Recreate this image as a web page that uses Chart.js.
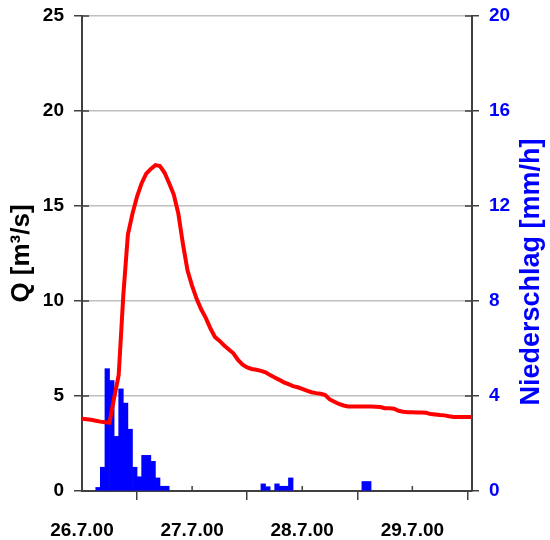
<!DOCTYPE html>
<html>
<head>
<meta charset="utf-8">
<script src="https://cdn.jsdelivr.net/npm/chart.js@4"></script>
<style>
  html, body { margin: 0; padding: 0; background: #fff; }
  canvas { display: block; }
</style>
</head>
<body>
<canvas id="hydro-chart" width="550" height="540"></canvas>
<script>
// hours since 26.7.00 00:00
const dayLabels = ['26.7.00', '27.7.00', '28.7.00', '29.7.00'];
const dayTicks = [0, 24, 48, 72];
const qTicks = [0, 5, 10, 15, 20, 25];
const rainTicks = [0, 4, 8, 12, 16, 20];

// discharge Q [m³/s], hourly from hour 0
const discharge = [
  3.8, 3.78, 3.75, 3.7, 3.65, 3.62, 3.6, 4.9, 6.1, 10.3,
  13.5, 14.6, 15.5, 16.2, 16.7, 16.95, 17.15, 17.1, 16.75, 16.2,
  15.6, 14.6, 13.0, 11.6, 10.8, 10.1, 9.55, 9.1, 8.55, 8.1,
  7.9, 7.65, 7.45, 7.25, 6.9, 6.65, 6.5, 6.42, 6.38, 6.32,
  6.25, 6.1, 5.97, 5.85, 5.72, 5.62, 5.52, 5.46, 5.38, 5.28,
  5.2, 5.15, 5.12, 5.05, 4.82, 4.7, 4.58, 4.5, 4.45, 4.45,
  4.45, 4.45, 4.45, 4.45, 4.44, 4.42, 4.36, 4.35, 4.33, 4.22,
  4.17, 4.15, 4.15, 4.13, 4.13, 4.12, 4.05, 4.03, 4.0, 3.98,
  3.93, 3.9, 3.9, 3.9, 3.9, 3.9,
];

// precipitation [mm/h]
const rainHours = [3, 4, 5, 6, 7, 8, 9, 10, 11, 12, 13, 14, 15, 16, 17, 18, 39, 40, 42, 43, 44, 45, 61, 62];
const rainValues = [0.15, 1.0, 5.15, 4.65, 2.3, 4.3, 3.7, 2.6, 1.0, 0.6, 1.5, 1.5, 1.25, 0.55, 0.2, 0.2, 0.3, 0.18, 0.3, 0.2, 0.2, 0.55, 0.4, 0.4];

const FONT = 'Liberation Sans, Arial, sans-serif';
const BLUE = '#0000ff';
const AXIS = '#404040';

const innerTicks = {
  id: 'innerTicks',
  afterDraw(chart) {
    const { ctx, chartArea: a, scales } = chart;
    ctx.save();
    ctx.strokeStyle = AXIS;
    ctx.lineWidth = 1.5;
    ctx.beginPath();
    qTicks.forEach((v) => {
      const y = scales.y.getPixelForValue(v);
      ctx.moveTo(a.left, y);
      ctx.lineTo(a.left + 7, y);
    });
    rainTicks.forEach((v) => {
      const y = scales.y2.getPixelForValue(v);
      ctx.moveTo(a.right - 7, y);
      ctx.lineTo(a.right, y);
    });
    dayTicks.forEach((v) => {
      const x = scales.x.getPixelForValue(v);
      ctx.moveTo(x, a.bottom - 5);
      ctx.lineTo(x, a.bottom);
    });
    ctx.stroke();

    // right axis title, reading bottom to top
    ctx.fillStyle = BLUE;
    ctx.font = 'bold 27px ' + FONT;
    ctx.textAlign = 'center';
    ctx.textBaseline = 'middle';
    ctx.translate(532, 272);
    ctx.rotate(-Math.PI / 2);
    ctx.fillText('Niederschlag [mm/h]', 0, 0);
    ctx.restore();
  },
};

function fixWidth(w) {
  return (scale) => {
    scale.width = w;
    scale.paddingTop = 0;
    scale.paddingBottom = 0;
  };
}

function buildChart() {
  const ctx = document.getElementById('hydro-chart');

  new Chart(ctx, {
    type: 'line',
    data: {
      datasets: [
        {
          type: 'line',
          label: 'Q',
          data: discharge.map((q, h) => ({ x: h, y: q })),
          borderColor: '#ff0000',
          borderWidth: 4,
          pointRadius: 0,
          tension: 0,
          yAxisID: 'y',
          order: 0,
        },
        {
          type: 'bar',
          label: 'Niederschlag',
          data: rainHours.map((h, i) => ({ x: h + 0.5, y: rainValues[i] })),
          backgroundColor: BLUE,
          borderColor: BLUE,
          borderWidth: 0,
          barPercentage: 1,
          categoryPercentage: 1,
          yAxisID: 'y2',
          order: 1,
        },
      ],
    },
    options: {
      responsive: false,
      animation: false,
      layout: { padding: { top: 16, left: 0, right: 0, bottom: 0 } },
      plugins: {
        legend: { display: false },
        tooltip: { enabled: false },
      },
      scales: {
        x: {
          type: 'linear',
          min: 0,
          max: 85,
          offset: false,
          afterBuildTicks: (scale) => {
            scale.ticks = dayTicks.map((v) => ({ value: v }));
          },
          afterFit: (scale) => { scale.height = 49; },
          ticks: {
            callback: (v) => dayLabels[dayTicks.indexOf(v)],
            color: '#000',
            font: { family: FONT, size: 19, weight: 'bold' },
            padding: 19,
            maxRotation: 0,
            autoSkip: false,
          },
          grid: {
            drawOnChartArea: false,
            color: AXIS,
            lineWidth: 1.5,
            tickLength: 9,
          },
          border: { color: AXIS, width: 2 },
        },
        y: {
          position: 'left',
          min: 0,
          max: 25,
          afterBuildTicks: (scale) => {
            scale.ticks = qTicks.map((v) => ({ value: v }));
          },
          afterFit: fixWidth(82),
          ticks: {
            color: '#000',
            font: { family: FONT, size: 19, weight: 'bold' },
            padding: 10,
          },
          grid: {
            color: '#c0c0c0',
            lineWidth: 1.5,
            tickColor: AXIS,
            tickLength: 8,
          },
          border: { color: AXIS, width: 2 },
          title: {
            display: true,
            text: 'Q [m³/s]',
            color: '#000',
            font: { family: FONT, size: 26, weight: 'bold' },
            padding: { top: 6, bottom: 0 },
          },
        },
        y2: {
          position: 'right',
          min: 0,
          max: 20,
          afterBuildTicks: (scale) => {
            scale.ticks = rainTicks.map((v) => ({ value: v }));
          },
          afterFit: fixWidth(78),
          ticks: {
            color: BLUE,
            font: { family: FONT, size: 19, weight: 'bold' },
            padding: 10,
          },
          grid: {
            drawOnChartArea: false,
            color: AXIS,
            lineWidth: 1.5,
            tickLength: 7,
          },
          border: { color: AXIS, width: 2 },
        },
      },
    },
    plugins: [innerTicks],
  });
}

buildChart();
</script>
</body>
</html>
